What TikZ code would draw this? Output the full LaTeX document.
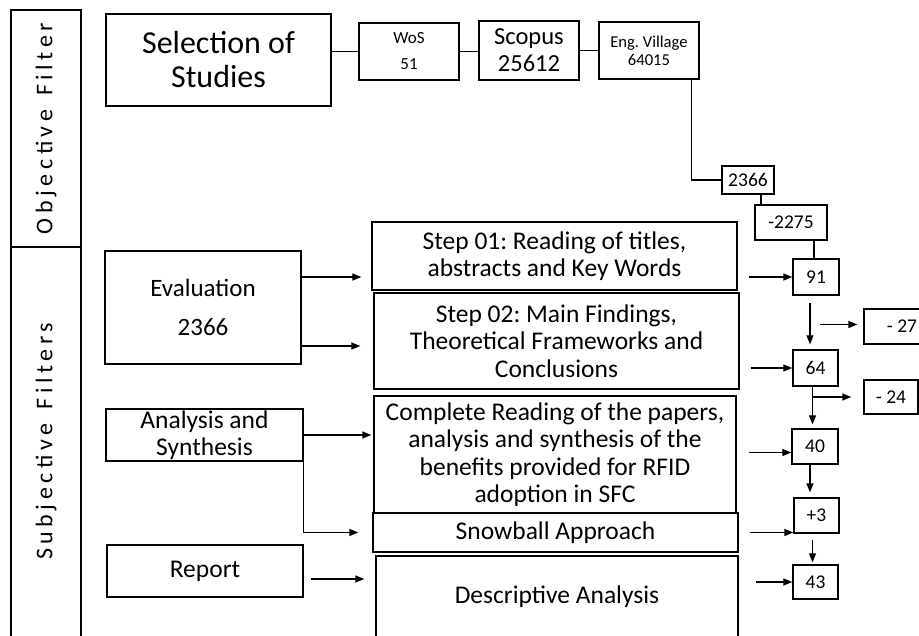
\documentclass[tikz,border=0pt]{standalone}
\usepackage{fontspec}
\setmainfont{Carlito}
\newfontfamily\spacedfont[LetterSpace=19]{Carlito}
\usetikzlibrary{arrows.meta, calc}
\frenchspacing

\begin{document}
\begin{tikzpicture}[x=1pt, y=-1pt,
        box/.style={draw, line width=1.3pt, inner sep=0pt, align=center},
        num/.style={box, font=\fontsize{19.5}{21}\selectfont},
        txt/.style={box, font=\fontsize{25.5}{27.5}\selectfont},
        link/.style={line width=1.3pt},
        arr/.style={line width=1.3pt, -{Triangle[length=9pt, width=7pt]}}]
        \useasboundingbox (0,0) rectangle (919,636);
        \clip (0,0) rectangle (919,636);

        % filter column
        \draw[link] (11,10) rectangle (81,660);
        \draw[link] (11,247) -- (81,247);
        \node[rotate=90, font=\spacedfont\fontsize{24}{26}\selectfont] (objf) at (46,128.5) {Objective\, Filter};
        \node[rotate=90, font=\spacedfont\fontsize{24}{26}\selectfont] (subjf) at (46,441.5) {Subjective\, Filters};

        % databases
        \node[box, minimum width=225, minimum height=92, font=\fontsize{32}{34}\selectfont] (sel) at (218.5,60) {Selection of\\Studies};
        \node[box, minimum width=100, minimum height=57, font=\fontsize{17}{26}\selectfont] (wos) at (409,51.5) {WoS\\51};
        \node[box, minimum width=100, minimum height=59, font=\fontsize{24.5}{27}\selectfont] (scopus) at (529,50.5) {Scopus\\25612};
        \node[box, minimum width=100, minimum height=57, font=\fontsize{16.6}{18}\selectfont] (eng) at (649,50.5) {Eng. Village\\64015};

        % counts
        \node[num, minimum width=52, minimum height=28] (n2366) at (748,180) {2366};
        \node[num, minimum width=72, minimum height=35] (m2275) at (791,222.5) {-2275};
        \node[num, minimum width=46, minimum height=36] (n91) at (816,277) {91};
        \node[num, minimum width=76, minimum height=35] (m27) at (902,326.5) {- 27};
        \node[num, minimum width=45, minimum height=36] (n64) at (815.5,368) {64};
        \node[num, minimum width=54, minimum height=34] (m24) at (891,397) {- 24};
        \node[num, minimum width=46, minimum height=35] (n40) at (815,446.5) {40};
        \node[num, minimum width=45, minimum height=35] (p3) at (816.5,515.5) {+3};
        \node[num, minimum width=45, minimum height=34] (n43) at (815.5,582) {43};

        % steps
        \node[txt, minimum width=365, minimum height=68] (step1) at (554.5,256) {Step 01: Reading of titles,\\abstracts and Key Words};
        \node[txt, minimum width=365, minimum height=96] (step2) at (556.5,341) {Step 02: Main Findings,\\Theoretical Frameworks and\\Conclusions};
        \node[txt, minimum width=362, minimum height=117] (reading) at (555,454.5) {Complete Reading of the papers,\\analysis and synthesis of the\\benefits provided for RFID\\adoption in SFC};
        \node[txt, minimum width=365, minimum height=39] (snow) at (555.5,532.5) {Snowball Approach};
        \node[txt, minimum width=362, minimum height=82] (desc) at (557,597) {Descriptive Analysis};

        % phases
        \node[box, minimum width=196, minimum height=113, font=\fontsize{25}{39}\selectfont] (eval) at (203,307.5) {Evaluation\\2366};
        \node[txt, minimum width=197, minimum height=52] (anal) at (204.5,435) {Analysis and\\Synthesis};
        \node[txt, minimum width=196, minimum height=52] (report) at (205,571) {Report};

        % top row
        \draw[link] (sel.east |- wos) -- (wos);
        \draw[link] (wos.east) -- (wos.east -| scopus.west);
        \draw[link] (scopus.east) -- (scopus.east -| eng.west);
        \draw[link] ([xshift=-8pt]eng.south east) |- (n2366);
        \draw[link] ([xshift=13pt]n2366.south) -- ([xshift=13pt]n2366.south |- m2275.north);
        \draw[link] ([xshift=-2pt]n91.north |- m2275.south) -- ([xshift=-2pt]n91.north);

        % into the counts
        \draw[arr, shorten <=11pt] (step1.east |- n91) -- (n91);
        \draw[arr, shorten <=11pt] (step2.east |- n64) -- (n64);
        \draw[arr, shorten <=12pt] ($(reading.east |- n40)+(0,6)$) -- ($(n40.west)+(0,6)$);
        \draw[arr, shorten <=11pt] (snow.east) -- (snow.east -| p3.west);
        \draw[arr, shorten <=17pt] (desc.east |- n43) -- (n43);

        % phases to steps
        \draw[arr, shorten >=10pt] (eval.east |- n91) -- (step1.west |- n91);
        \draw[arr, shorten >=13pt] ($(eval.east)+(0,38.5)$) -- ($(eval.east -| step2.west)+(0,38.5)$);
        \draw[arr, shorten >=2pt] (anal.east) -- (anal.east -| reading.west);
        \draw[arr, shorten >=14pt] (anal.south east) |- (snow.west);
        \draw[arr, shorten <=7pt, shorten >=11pt] ($(report.east)+(0,8)$) -- ($(report.east -| desc.west)+(0,8)$);

        % down the counts
        \draw[arr, shorten <=7pt, shorten >=5pt] ($(n91.south)+(-6,0)$) -- ($(n91.south |- n64.north)+(-6,0)$);
        \draw[arr, shorten >=6pt] ($(n91.south |- m27)+(4,-2)$) -- ($(m27.west)+(0,-2)$);
        \draw[arr, shorten >=4pt] ($(n64.south)+(-3,0)$) -- ($(n64.south |- n40.north)+(-3,0)$);
        \draw[arr, shorten >=12pt] ($(n64.south |- m24)+(-3,0)$) -- (m24.west);
        \draw[arr, shorten >=5pt] ($(n40.south)+(-5,0)$) -- ($(n40.south |- p3.north)+(-5,0)$);
        \draw[arr, shorten <=6pt, shorten >=2pt] ($(p3.south)+(-4,0)$) -- ($(p3.south |- n43.north)+(-4,0)$);
\end{tikzpicture}
\end{document}
